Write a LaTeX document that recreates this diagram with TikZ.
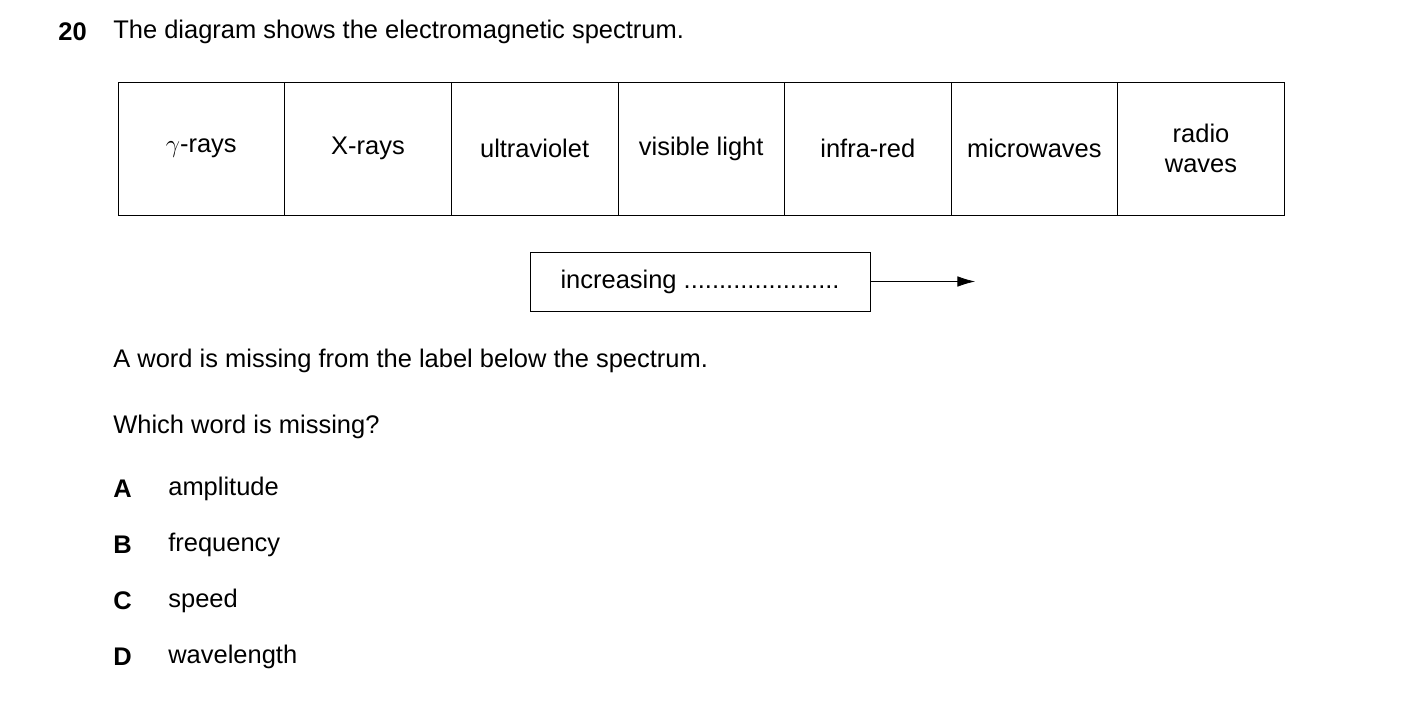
\documentclass[tikz,border=0pt]{standalone}
\usepackage{fontspec}
\setmainfont{Liberation Sans}
\usetikzlibrary{arrows.meta}
\begin{document}
\fontsize{14.5pt}{17.5pt}\selectfont
\begin{tikzpicture}[x=0.02cm,y=-0.02cm,
  band/.style={draw,minimum width=3.333cm,minimum height=2.66cm,inner sep=0pt,align=center},
  txt/.style={anchor=west,inner sep=0pt},
  opt/.style={anchor=west,inner sep=0pt,font=\bfseries}]
  \useasboundingbox (0,0) rectangle (1403,723);
  \node[opt] (num) at (58,32) {20};
  \node[txt] (title) at (113,32) {The diagram shows the electromagnetic spectrum.};
  % spectrum bands
  \node[band] (b1) at (201.3,148.5) {$\gamma$-rays};
  \node[band] (b2) at (368,148.5) {X-rays};
  \node[band] (b3) at (534.6,148.5) {ultraviolet};
  \node[band] (b4) at (701.2,148.5) {visible light};
  \node[band] (b5) at (867.8,148.5) {infra-red};
  \node[band] (b6) at (1034.4,148.5) {microwaves};
  \node[band] (b7) at (1201,148.5) {radio\\waves};
  % label below
  \node[draw,minimum width=6.8cm,minimum height=1.18cm,inner sep=0pt] (lab) at (700,281.5) {increasing ......................};
  \coordinate (tip) at (975,281.5);
  \draw[-{Latex[length=10pt,width=6pt]}] (lab.east) -- (tip);
  \node[txt] (q1) at (113,361) {A word is missing from the label below the spectrum.};
  \node[txt] (q2) at (113,427) {Which word is missing?};
  \node[opt] (a) at (113,489) {A};
  \node[txt] (ta) at (168,489) {amplitude};
  \node[opt] (b) at (113,545) {B};
  \node[txt] (tb) at (168,545) {frequency};
  \node[opt] (c) at (113,601) {C};
  \node[txt] (tc) at (168,601) {speed};
  \node[opt] (d) at (113,657) {D};
  \node[txt] (td) at (168,657) {wavelength};
\end{tikzpicture}
\end{document}
